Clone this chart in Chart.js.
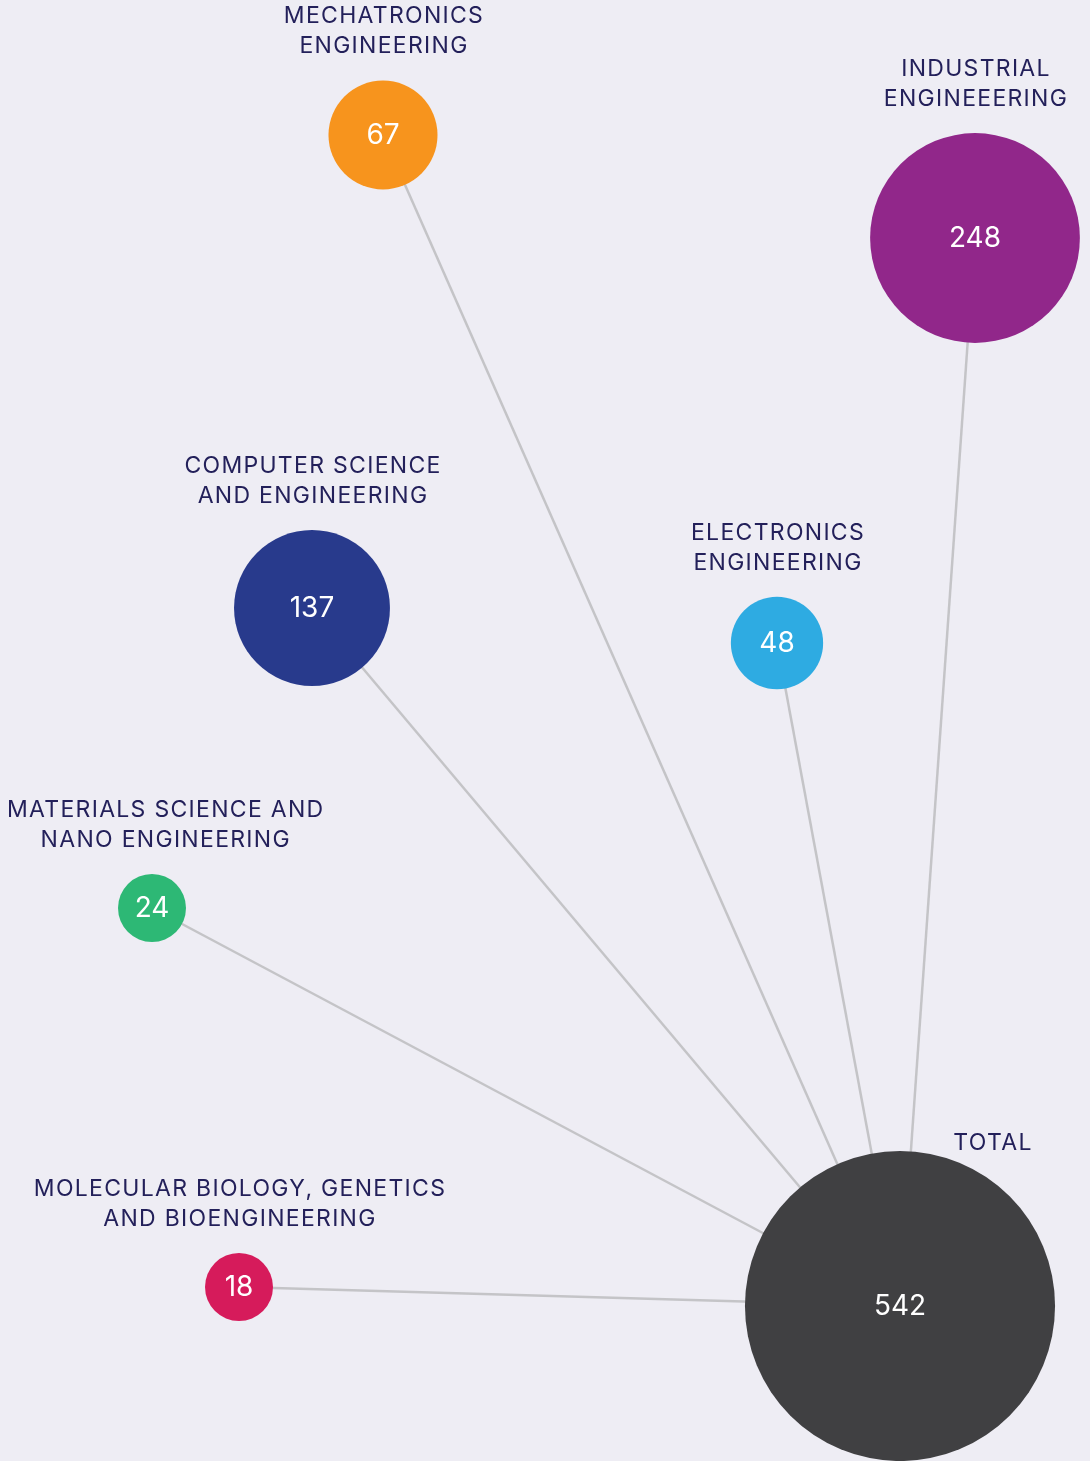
<!DOCTYPE html>
<html>
<head>
<meta charset="utf-8">
<script src="https://cdn.jsdelivr.net/npm/chart.js@4.4.1/dist/chart.umd.min.js"></script>
<style>
html, body { margin: 0; padding: 0; background: #EEEDF4; }
#wrap { width: 1090px; height: 1461px; }
</style>
</head>
<body>
<div id="wrap"><canvas id="spokes"></canvas></div>
<script>
// programmes, one label line per entry
var programmes = [
    ["MECHATRONICS", "ENGINEERING"],
    ["INDUSTRIAL", "ENGINEEERING"],
    ["COMPUTER SCIENCE", "AND ENGINEERING"],
    ["ELECTRONICS", "ENGINEERING"],
    ["MATERIALS SCIENCE AND", "NANO ENGINEERING"],
    ["MOLECULAR BIOLOGY, GENETICS", "AND BIOENGINEERING"]
];
var students = [67, 248, 137, 48, 24, 18];
// where each bubble sits on the (hidden) x / y grid
var gridX = [383, 975, 312, 777, 152, 239];
var gridY = [135, 238, 608, 643, 908, 1287];

var totalLabel = "TOTAL";
var totalStudents = 542;
var totalX = 900;
var totalY = 1306;

var colours = ['#F7941D', '#91278A', '#283A8C', '#2EABE2', '#2DB875', '#D61B5B'];
var totalColour = '#404042';

function bubbleRadius(v) {
    return Math.max(34, 6.66 * Math.sqrt(v));
}

var datasets = [];

// spokes from each programme to the total
for (var i = 0; i < students.length; i++) {
    datasets.push({
        type: 'line',
        data: [{x: gridX[i], y: gridY[i]}, {x: totalX, y: totalY}],
        borderColor: '#C4C4C7',
        borderWidth: 2.5,
        pointRadius: 0,
        fill: false,
        order: 2
    });
}

var bubbles = [];
for (var j = 0; j < students.length; j++) {
    bubbles.push({x: gridX[j], y: gridY[j], r: bubbleRadius(students[j]), v: students[j], label: programmes[j]});
}
bubbles.push({x: totalX, y: totalY, r: bubbleRadius(totalStudents), v: totalStudents, label: [totalLabel], total: true});

datasets.push({
    type: 'bubble',
    data: bubbles,
    backgroundColor: colours.concat([totalColour]),
    borderWidth: 0,
    hoverRadius: 0,
    order: 1
});

var labelPlugin = {
    id: 'bubbleLabels',
    afterDatasetsDraw: function(chart) {
        var ctx = chart.ctx;
        var meta = chart.getDatasetMeta(datasets.length - 1);
        ctx.save();
        meta.data.forEach(function(el, k) {
            var d = bubbles[k];
            var r = el.options.radius;
            ctx.textBaseline = 'middle';
            ctx.textAlign = 'center';
            ctx.letterSpacing = '0px';
            ctx.fillStyle = '#FFFFFF';
            ctx.font = '400 28px Inter';
            ctx.fillText(String(d.v), el.x, el.y + 1);

            ctx.fillStyle = '#23205A';
            ctx.font = '400 23px Inter';
            ctx.letterSpacing = '1.3px';
            if (d.total) {
                ctx.fillText(d.label[0], el.x + r * 0.6, el.y - r - 8);
            } else {
                // keep the label block inside the canvas
                var widest = 0;
                d.label.forEach(function(t) { widest = Math.max(widest, ctx.measureText(t).width); });
                var cx = el.x + 1;
                if (cx - widest / 2 < 7) cx = 7 + widest / 2;
                if (cx + widest / 2 > chart.width - 7) cx = chart.width - 7 - widest / 2;
                var n = d.label.length;
                for (var m = 0; m < n; m++) {
                    ctx.fillText(d.label[m], cx, el.y - r - 34 - (n - 1 - m) * 30);
                }
            }
        });
        ctx.restore();
    }
};

var bgPlugin = {
    id: 'bg',
    beforeDraw: function(chart) {
        var ctx = chart.ctx;
        ctx.save();
        ctx.fillStyle = '#EEEDF4';
        ctx.fillRect(0, 0, chart.width, chart.height);
        ctx.restore();
    }
};

new Chart(document.getElementById('spokes').getContext('2d'), {
    type: 'bubble',
    data: { datasets: datasets },
    options: {
        responsive: true,
        maintainAspectRatio: false,
        animation: false,
        events: [],
        clip: false,
        layout: { padding: 0, autoPadding: false },
        plugins: { legend: { display: false }, tooltip: { enabled: false } },
        scales: {
            x: { type: 'linear', min: 0, max: 1090, display: false },
            y: { type: 'linear', min: 0, max: 1461, reverse: true, display: false }
        }
    },
    plugins: [bgPlugin, labelPlugin]
});
</script>
</body>
</html>
